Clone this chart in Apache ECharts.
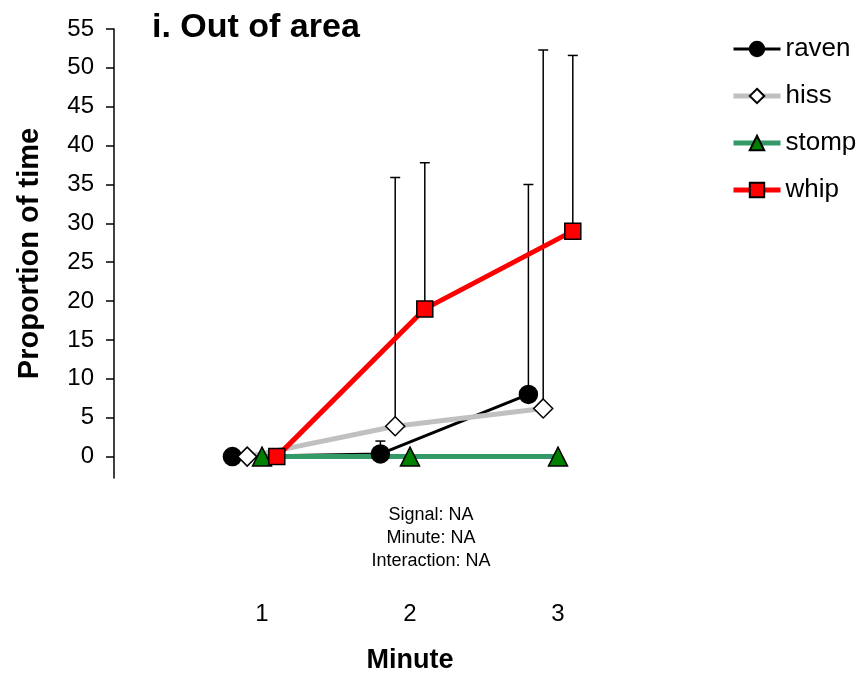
<!DOCTYPE html>
<html>
<head>
<meta charset="utf-8">
<script src="https://cdn.jsdelivr.net/npm/echarts@6/dist/echarts.min.js"></script>
<style>html,body{margin:0;padding:0;background:#fff}#c{width:862px;height:673px}</style>
</head>
<body>
<div id="c"></div>
<script>
const minutes = [1, 2, 3];
const seriesNames = ['raven', 'hiss', 'stomp', 'whip'];
const raven = [0, 0.35, 8.0];
const ravenHigh = [null, 2.0, 35.0];
const hiss = [0, 3.9, 6.2];
const hissHigh = [null, 35.9, 52.3];
const stomp = [0, 0, 0];
const stompHigh = [null, null, null];
const whip = [0, 19.0, 29.0];
const whipHigh = [null, 37.8, 51.6];
const yTicks = [0, 5, 10, 15, 20, 25, 30, 35, 40, 45, 50, 55];
const notes = ['Signal: NA', 'Minute: NA', 'Interaction: NA'];

const FONT = 'Liberation Sans, Arial, sans-serif';
const offsets = {raven: -0.2, hiss: -0.1, stomp: 0, whip: 0.1};
const styles = {
  raven: {line: '#000000', width: 3, symbol: 'circle', size: 18, fill: '#000000'},
  hiss: {line: '#c0c0c0', width: 5, symbol: 'diamond', size: 19, fill: '#ffffff'},
  stomp: {line: '#339966', width: 5, symbol: 'triangle', size: 19, fill: '#008000'},
  whip: {line: '#ff0000', width: 5, symbol: 'rect', size: 16, fill: '#ff0000'}
};
const vals = {raven, hiss, stomp, whip};
const highs = {raven: ravenHigh, hiss: hissHigh, stomp: stompHigh, whip: whipHigh};

const series = [];
seriesNames.forEach(n => {
  const s = styles[n];
  series.push({
    name: n, type: 'line', z: 3,
    data: minutes.map((m, i) => [m + offsets[n], vals[n][i]]),
    symbol: s.symbol, symbolSize: s.size,
    lineStyle: {color: s.line, width: s.width},
    itemStyle: {color: s.fill, borderColor: '#000000', borderWidth: 1.5},
    emphasis: {disabled: true}, animation: false
  });
});
seriesNames.forEach(n => {
  const d = [];
  minutes.forEach((m, i) => { if (highs[n][i] != null) d.push([m + offsets[n], vals[n][i], highs[n][i]]); });
  if (!d.length) return;
  series.push({
    type: 'custom', z: 2, silent: true, animation: false,
    data: d,
    encode: {x: 0, y: [1, 2]},
    renderItem: function (params, api) {
      const p0 = api.coord([api.value(0), api.value(1)]);
      const p1 = api.coord([api.value(0), api.value(2)]);
      return {type: 'group', children: [
        {type: 'line', shape: {x1: p0[0], y1: p0[1], x2: p1[0], y2: p1[1]}, style: {stroke: '#000', lineWidth: 1.5}},
        {type: 'line', shape: {x1: p1[0] - 5, y1: p1[1], x2: p1[0] + 5, y2: p1[1]}, style: {stroke: '#000', lineWidth: 1.5}}
      ]};
    }
  });
});

const chart = echarts.init(document.getElementById('c'));
chart.setOption({
  backgroundColor: '#ffffff',
  animation: false,
  title: {text: 'i. Out of area', left: 147, top: 6, textStyle: {fontFamily: FONT, fontSize: 34, fontWeight: 'bold', color: '#000'}},
  legend: {
    orient: 'vertical', left: 731, top: 36, padding: 0, itemWidth: 47, itemHeight: 18, itemGap: 21,
    data: seriesNames.map(n => ({name: n, lineStyle: {width: styles[n].width, color: styles[n].line}})),
    textStyle: {fontFamily: FONT, fontSize: 26, color: '#000'},
    selectedMode: false
  },
  grid: {left: 114, right: 156, top: 29, bottom: 195, outerBoundsMode: 'none', containLabel: false},
  xAxis: {
    type: 'value', min: 0, max: 4,
    axisLine: {show: false}, axisTick: {show: false}, splitLine: {show: false},
    axisLabel: {customValues: minutes, margin: 124, fontFamily: FONT, fontSize: 24, color: '#000'},
    name: 'Minute', nameLocation: 'middle', nameGap: 169,
    nameTextStyle: {fontFamily: FONT, fontSize: 27, fontWeight: 'bold', color: '#000'}
  },
  yAxis: {
    type: 'value', min: -2.75, max: 55,
    axisLine: {show: true, lineStyle: {color: '#000', width: 1.5}},
    axisTick: {show: true, customValues: yTicks, length: 8, lineStyle: {color: '#000', width: 1.5}},
    axisLabel: {customValues: yTicks, margin: 20, fontFamily: FONT, fontSize: 24, color: '#000'},
    splitLine: {show: false},
    name: 'Proportion of time', nameLocation: 'middle', nameGap: 70,
    nameTextStyle: {fontFamily: FONT, fontSize: 29, fontWeight: 'bold', color: '#000'}
  },
  graphic: notes.map((t, i) => ({
    type: 'text', x: 431, y: 515 + i * 23,
    style: {text: t, font: '18px ' + FONT, fill: '#000', textAlign: 'center', textVerticalAlign: 'middle'}
  })),
  series: series
});
</script>
</body>
</html>
